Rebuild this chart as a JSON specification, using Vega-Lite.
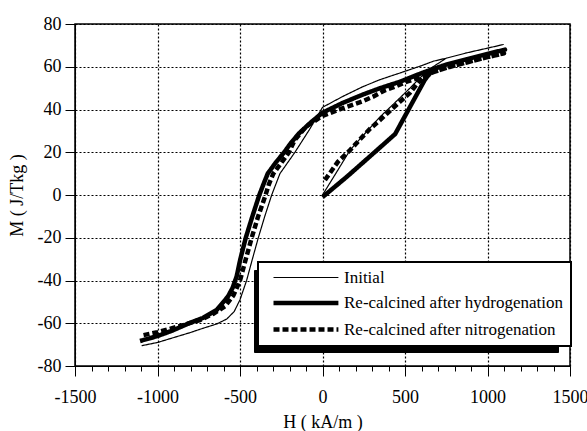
{
  "$schema": "https://vega.github.io/schema/vega-lite/v6.json",
  "width": 495,
  "height": 342,
  "autosize": {"type": "none"},
  "padding": {"left": 75, "top": 24, "right": 17, "bottom": 65},
  "background": "white",
  "data": {"values": [
    {"s": "Initial", "i": 1, "H": 0, "M": 0},
    {"s": "Initial", "i": 2, "H": 80, "M": 10},
    {"s": "Initial", "i": 3, "H": 167, "M": 21},
    {"s": "Initial", "i": 4, "H": 260, "M": 29},
    {"s": "Initial", "i": 5, "H": 348, "M": 36.5},
    {"s": "Initial", "i": 6, "H": 450, "M": 44},
    {"s": "Initial", "i": 7, "H": 530, "M": 50},
    {"s": "Initial", "i": 8, "H": 591, "M": 54.8},
    {"s": "Initial", "i": 9, "H": 640, "M": 58.5},
    {"s": "Initial", "i": 10, "H": 750, "M": 64},
    {"s": "Initial", "i": 11, "H": 874, "M": 66.5},
    {"s": "Initial", "i": 12, "H": 1000, "M": 68.7},
    {"s": "Initial", "i": 13, "H": 1096, "M": 70.4},
    {"s": "Initial", "i": 14, "H": 1000, "M": 68.7},
    {"s": "Initial", "i": 15, "H": 874, "M": 66.5},
    {"s": "Initial", "i": 16, "H": 750, "M": 64},
    {"s": "Initial", "i": 17, "H": 672, "M": 62.6},
    {"s": "Initial", "i": 18, "H": 600, "M": 60.5},
    {"s": "Initial", "i": 19, "H": 470, "M": 57.1},
    {"s": "Initial", "i": 20, "H": 350, "M": 54},
    {"s": "Initial", "i": 21, "H": 245, "M": 50.7},
    {"s": "Initial", "i": 22, "H": 120, "M": 46},
    {"s": "Initial", "i": 23, "H": 0, "M": 41},
    {"s": "Initial", "i": 24, "H": -80, "M": 30.5},
    {"s": "Initial", "i": 25, "H": -167, "M": 20},
    {"s": "Initial", "i": 26, "H": -258, "M": 10},
    {"s": "Initial", "i": 27, "H": -308, "M": 0},
    {"s": "Initial", "i": 28, "H": -350, "M": -10},
    {"s": "Initial", "i": 29, "H": -389, "M": -20},
    {"s": "Initial", "i": 30, "H": -425, "M": -30},
    {"s": "Initial", "i": 31, "H": -460, "M": -40},
    {"s": "Initial", "i": 32, "H": -500, "M": -49},
    {"s": "Initial", "i": 33, "H": -535, "M": -54.5},
    {"s": "Initial", "i": 34, "H": -580, "M": -58},
    {"s": "Initial", "i": 35, "H": -640, "M": -60.3},
    {"s": "Initial", "i": 36, "H": -742, "M": -62.8},
    {"s": "Initial", "i": 37, "H": -803, "M": -64.4},
    {"s": "Initial", "i": 38, "H": -906, "M": -66.8},
    {"s": "Initial", "i": 39, "H": -1000, "M": -69},
    {"s": "Initial", "i": 40, "H": -1096, "M": -70.5},

    {"s": "Re-calcined after hydrogenation", "i": 1, "H": 0, "M": -1},
    {"s": "Re-calcined after hydrogenation", "i": 2, "H": 150, "M": 8.7},
    {"s": "Re-calcined after hydrogenation", "i": 3, "H": 310, "M": 19.6},
    {"s": "Re-calcined after hydrogenation", "i": 4, "H": 440, "M": 28.5},
    {"s": "Re-calcined after hydrogenation", "i": 5, "H": 621, "M": 54},
    {"s": "Re-calcined after hydrogenation", "i": 6, "H": 670, "M": 58.8},
    {"s": "Re-calcined after hydrogenation", "i": 7, "H": 750, "M": 61},
    {"s": "Re-calcined after hydrogenation", "i": 8, "H": 874, "M": 63.5},
    {"s": "Re-calcined after hydrogenation", "i": 9, "H": 1000, "M": 66},
    {"s": "Re-calcined after hydrogenation", "i": 10, "H": 1106, "M": 68},
    {"s": "Re-calcined after hydrogenation", "i": 11, "H": 1000, "M": 66},
    {"s": "Re-calcined after hydrogenation", "i": 12, "H": 874, "M": 63.5},
    {"s": "Re-calcined after hydrogenation", "i": 13, "H": 750, "M": 61},
    {"s": "Re-calcined after hydrogenation", "i": 14, "H": 672, "M": 59},
    {"s": "Re-calcined after hydrogenation", "i": 15, "H": 600, "M": 57},
    {"s": "Re-calcined after hydrogenation", "i": 16, "H": 470, "M": 53},
    {"s": "Re-calcined after hydrogenation", "i": 17, "H": 350, "M": 50},
    {"s": "Re-calcined after hydrogenation", "i": 18, "H": 245, "M": 47},
    {"s": "Re-calcined after hydrogenation", "i": 19, "H": 120, "M": 43},
    {"s": "Re-calcined after hydrogenation", "i": 20, "H": 0, "M": 38.5},
    {"s": "Re-calcined after hydrogenation", "i": 21, "H": -70, "M": 34},
    {"s": "Re-calcined after hydrogenation", "i": 22, "H": -140, "M": 29},
    {"s": "Re-calcined after hydrogenation", "i": 23, "H": -190, "M": 24.5},
    {"s": "Re-calcined after hydrogenation", "i": 24, "H": -232, "M": 20},
    {"s": "Re-calcined after hydrogenation", "i": 25, "H": -285, "M": 15},
    {"s": "Re-calcined after hydrogenation", "i": 26, "H": -332, "M": 10},
    {"s": "Re-calcined after hydrogenation", "i": 27, "H": -358, "M": 5},
    {"s": "Re-calcined after hydrogenation", "i": 28, "H": -383, "M": 0},
    {"s": "Re-calcined after hydrogenation", "i": 29, "H": -425, "M": -10},
    {"s": "Re-calcined after hydrogenation", "i": 30, "H": -465, "M": -20},
    {"s": "Re-calcined after hydrogenation", "i": 31, "H": -498, "M": -30},
    {"s": "Re-calcined after hydrogenation", "i": 32, "H": -520, "M": -38},
    {"s": "Re-calcined after hydrogenation", "i": 33, "H": -545, "M": -43.5},
    {"s": "Re-calcined after hydrogenation", "i": 34, "H": -573, "M": -47.5},
    {"s": "Re-calcined after hydrogenation", "i": 35, "H": -641, "M": -53.8},
    {"s": "Re-calcined after hydrogenation", "i": 36, "H": -724, "M": -57.5},
    {"s": "Re-calcined after hydrogenation", "i": 37, "H": -803, "M": -59.8},
    {"s": "Re-calcined after hydrogenation", "i": 38, "H": -906, "M": -63.3},
    {"s": "Re-calcined after hydrogenation", "i": 39, "H": -1000, "M": -66},
    {"s": "Re-calcined after hydrogenation", "i": 40, "H": -1106, "M": -68.3},

    {"s": "Re-calcined after nitrogenation", "i": 1, "H": 15, "M": 7},
    {"s": "Re-calcined after nitrogenation", "i": 2, "H": 94, "M": 15.6},
    {"s": "Re-calcined after nitrogenation", "i": 3, "H": 167, "M": 21},
    {"s": "Re-calcined after nitrogenation", "i": 4, "H": 227, "M": 26},
    {"s": "Re-calcined after nitrogenation", "i": 5, "H": 288, "M": 31},
    {"s": "Re-calcined after nitrogenation", "i": 6, "H": 348, "M": 35},
    {"s": "Re-calcined after nitrogenation", "i": 7, "H": 409, "M": 39.4},
    {"s": "Re-calcined after nitrogenation", "i": 8, "H": 470, "M": 43.7},
    {"s": "Re-calcined after nitrogenation", "i": 9, "H": 530, "M": 47.8},
    {"s": "Re-calcined after nitrogenation", "i": 10, "H": 579, "M": 52.5},
    {"s": "Re-calcined after nitrogenation", "i": 11, "H": 609, "M": 55},
    {"s": "Re-calcined after nitrogenation", "i": 12, "H": 672, "M": 57.5},
    {"s": "Re-calcined after nitrogenation", "i": 13, "H": 750, "M": 59.5},
    {"s": "Re-calcined after nitrogenation", "i": 14, "H": 874, "M": 62},
    {"s": "Re-calcined after nitrogenation", "i": 15, "H": 1000, "M": 64.5},
    {"s": "Re-calcined after nitrogenation", "i": 16, "H": 1100, "M": 66.3},
    {"s": "Re-calcined after nitrogenation", "i": 17, "H": 1000, "M": 64.5},
    {"s": "Re-calcined after nitrogenation", "i": 18, "H": 874, "M": 62},
    {"s": "Re-calcined after nitrogenation", "i": 19, "H": 750, "M": 59.5},
    {"s": "Re-calcined after nitrogenation", "i": 20, "H": 672, "M": 57.5},
    {"s": "Re-calcined after nitrogenation", "i": 21, "H": 609, "M": 55.5},
    {"s": "Re-calcined after nitrogenation", "i": 22, "H": 511, "M": 53},
    {"s": "Re-calcined after nitrogenation", "i": 23, "H": 450, "M": 51},
    {"s": "Re-calcined after nitrogenation", "i": 24, "H": 379, "M": 49},
    {"s": "Re-calcined after nitrogenation", "i": 25, "H": 306, "M": 46},
    {"s": "Re-calcined after nitrogenation", "i": 26, "H": 239, "M": 43.7},
    {"s": "Re-calcined after nitrogenation", "i": 27, "H": 120, "M": 40.5},
    {"s": "Re-calcined after nitrogenation", "i": 28, "H": 0, "M": 37},
    {"s": "Re-calcined after nitrogenation", "i": 29, "H": -100, "M": 32},
    {"s": "Re-calcined after nitrogenation", "i": 30, "H": -170, "M": 25.5},
    {"s": "Re-calcined after nitrogenation", "i": 31, "H": -203, "M": 20},
    {"s": "Re-calcined after nitrogenation", "i": 32, "H": -250, "M": 15},
    {"s": "Re-calcined after nitrogenation", "i": 33, "H": -298, "M": 10},
    {"s": "Re-calcined after nitrogenation", "i": 34, "H": -325, "M": 5},
    {"s": "Re-calcined after nitrogenation", "i": 35, "H": -345, "M": 0},
    {"s": "Re-calcined after nitrogenation", "i": 36, "H": -390, "M": -10},
    {"s": "Re-calcined after nitrogenation", "i": 37, "H": -429, "M": -20},
    {"s": "Re-calcined after nitrogenation", "i": 38, "H": -465, "M": -30},
    {"s": "Re-calcined after nitrogenation", "i": 39, "H": -500, "M": -40},
    {"s": "Re-calcined after nitrogenation", "i": 40, "H": -540, "M": -47},
    {"s": "Re-calcined after nitrogenation", "i": 41, "H": -590, "M": -52},
    {"s": "Re-calcined after nitrogenation", "i": 42, "H": -660, "M": -55.5},
    {"s": "Re-calcined after nitrogenation", "i": 43, "H": -742, "M": -58.5},
    {"s": "Re-calcined after nitrogenation", "i": 44, "H": -850, "M": -61},
    {"s": "Re-calcined after nitrogenation", "i": 45, "H": -1000, "M": -64.2},
    {"s": "Re-calcined after nitrogenation", "i": 46, "H": -1100, "M": -65.8}
  ]},
  "mark": {"type": "line", "color": "black", "strokeJoin": "round", "strokeCap": "butt"},
  "encoding": {
    "x": {
      "field": "H", "type": "quantitative",
      "scale": {"domain": [-1500, 1500], "nice": false, "zero": false},
      "axis": {
        "title": "H ( kA/m )",
        "values": [-1500,-1400,-1300,-1200,-1100,-1000,-900,-800,-700,-600,-500,-400,-300,-200,-100,0,100,200,300,400,500,600,700,800,900,1000,1100,1200,1300,1400,1500],
        "labelExpr": "datum.value % 500 === 0 ? '' + datum.value : ''",
        "labelOverlap": false,
        "labelFlush": false,
        "tickSize": {"condition": {"test": "datum.value % 500 === 0", "value": 10}, "value": 5},
        "gridOpacity": {"condition": {"test": "datum.value % 500 === 0", "value": 1}, "value": 0},
        "labelPadding": 12,
        "titleY": 56,
        "titleBaseline": "middle"
      }
    },
    "y": {
      "field": "M", "type": "quantitative",
      "scale": {"domain": [-80, 80], "nice": false, "zero": false},
      "axis": {
        "title": "M ( J/Tkg )",
        "values": [-80,-60,-40,-20,0,20,40,60,80],
        "labelExpr": "'' + datum.value",
        "tickSize": 10,
        "labelPadding": 4,
        "titleX": -58,
        "titleY": 171,
        "titleAngle": 270,
        "titleAlign": "center",
        "titleBaseline": "middle"
      }
    },
    "order": {"field": "i", "type": "quantitative"},
    "strokeDash": {
      "field": "s", "type": "nominal",
      "scale": {"domain": ["Initial", "Re-calcined after hydrogenation", "Re-calcined after nitrogenation"], "range": [[1, 0], [1, 0], [6, 3]]},
      "legend": {"title": null, "orient": "none", "legendX": 183, "legendY": 238, "zindex": 2,
        "encode": {"legend": {"update": {"strokeWidth": {"value": 2}}}}}
    },
    "strokeWidth": {
      "field": "s", "type": "nominal",
      "scale": {"type": "ordinal", "domain": ["Initial", "Re-calcined after hydrogenation", "Re-calcined after nitrogenation"], "range": [1.2, 4.5, 4.5]},
      "legend": {"title": null, "orient": "none", "legendX": 183, "legendY": 238, "zindex": 2,
        "encode": {"legend": {"update": {"strokeWidth": {"value": 2}}}}}
    },
    "opacity": {
      "field": "s", "type": "nominal",
      "scale": {"type": "ordinal", "range": [1, 1, 1]},
      "legend": {"title": null, "orient": "none", "legendX": 179, "legendY": 246, "zindex": 1,
        "labelExpr": "''", "labelOffset": 273,
        "fillColor": "black", "strokeColor": "black", "labelColor": "black"}
    }
  },
  "config": {
    "font": "Liberation Serif",
    "view": {"stroke": "black", "strokeWidth": 1.5},
    "axis": {
      "labelFont": "Liberation Serif", "titleFont": "Liberation Serif",
      "labelColor": "black", "titleColor": "black",
      "labelFontSize": 18, "titleFontSize": 18, "titleFontWeight": "normal",
      "tickColor": "black", "domainColor": "black", "tickWidth": 1,
      "gridColor": "black", "gridDash": [2, 2], "gridWidth": 1.2, "gridOpacity": 1
    },
    "legend": {
      "symbolType": "M0,0H12", "symbolSize": 117, "symbolStrokeColor": "black",
      "labelFont": "Liberation Serif", "labelFontSize": 17, "labelColor": "black",
      "labelLimit": 400, "labelOffset": 62,
      "padding": 7, "rowPadding": 7.5,
      "strokeColor": "black", "fillColor": "white"
    }
  }
}
